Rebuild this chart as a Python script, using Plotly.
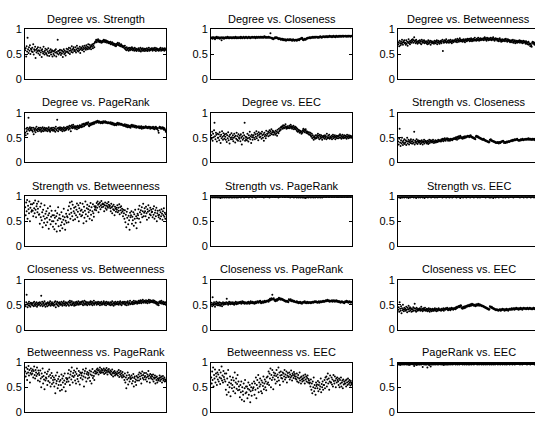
import plotly.graph_objects as go

titles = ["Degree vs. Strength", "Degree vs. Closeness", "Degree vs. Betweenness",
          "Degree vs. PageRank", "Degree vs. EEC", "Strength vs. Closeness",
          "Strength vs. Betweenness", "Strength vs. PageRank", "Strength vs. EEC",
          "Closeness vs. Betweenness", "Closeness vs. PageRank", "Closeness vs. EEC",
          "Betweenness vs. PageRank", "Betweenness vs. EEC", "PageRank vs. EEC"]

y_ticks = [0, 0.5, 1]
y_tick_labels = ["0", "0.5", "1"]

deg_str = [
    .58,.62,.45,.66,.55,.83,.6,.52,.64,.57,.68,.5,.61,.59,.55, .63,.54,.7,.49,.6,.57,.65,.42,.59,.53,.61,.56,.64,.51,.58,
    .56,.48,.63,.53,.58,.44,.6,.55,.51,.65,.54,.49,.57,.61,.52, .5,.59,.47,.55,.62,.52,.46,.57,.53,.6,.49,.54,.58,.45,.56,
    .5,.55,.47,.58,.53,.6,.45,.54,.51,.79,.56,.49,.57,.52,.59, .53,.48,.58,.51,.56,.44,.54,.6,.5,.57,.52,.47,.55,.61,.54,
    .55,.6,.52,.63,.57,.5,.62,.58,.54,.66,.59,.53,.61,.64,.56, .59,.56,.64,.53,.6,.67,.57,.62,.55,.61,.58,.65,.52,.6,.63,
    .62,.58,.66,.6,.63,.55,.67,.61,.64,.59,.68,.62,.65,.6,.7, .64,.61,.69,.63,.66,.6,.68,.65,.7,.62,.67,.71,.64,.73,.75,
    .76,.79,.74,.78,.77,.8,.75,.78,.76,.74,.77,.75,.73,.76,.74, .77,.75,.79,.78,.76,.74,.78,.75,.77,.73,.76,.74,.75,.72,.74,
    .72,.75,.7,.73,.71,.74,.69,.72,.7,.68,.71,.67,.7,.66,.68, .71,.69,.73,.7,.68,.72,.67,.69,.66,.7,.68,.65,.67,.64,.66,
    .65,.62,.67,.6,.63,.58,.64,.61,.59,.62,.57,.63,.6,.58,.61, .63,.6,.64,.58,.62,.59,.61,.57,.63,.6,.58,.61,.56,.6,.59,
    .59,.62,.56,.6,.58,.63,.55,.61,.59,.57,.62,.58,.6,.56,.61, .6,.57,.61,.58,.62,.56,.6,.59,.63,.57,.6,.58,.61,.59,.62,
    .6,.57,.62,.59,.61,.58,.63,.6,.56,.62,.59,.61,.58,.6,.57, .58,.61,.6,.63,.57,.6,.59,.62,.58,.61,.6,.57,.62,.59,.6]

deg_clo = [
    .83,.82,.84,.81,.83,.84,.82,.83,.8,.84,.82,.83,.85,.82,.83, .82,.84,.83,.81,.83,.82,.84,.78,.83,.82,.84,.83,.81,.83,.82,
    .84,.83,.82,.84,.83,.85,.82,.83,.84,.82,.83,.84,.83,.82,.84, .83,.82,.84,.83,.84,.82,.83,.85,.83,.82,.84,.83,.82,.84,.83,
    .83,.84,.82,.85,.83,.84,.82,.83,.84,.85,.83,.82,.84,.83,.85, .84,.83,.82,.84,.83,.85,.84,.83,.82,.84,.83,.84,.85,.83,.84,
    .84,.83,.85,.84,.82,.84,.85,.83,.84,.83,.85,.84,.83,.84,.85, .83,.85,.84,.83,.84,.85,.83,.84,.86,.84,.83,.85,.84,.83,.84,
    .84,.83,.85,.84,.83,.84,.92,.83,.82,.83,.81,.82,.8,.81,.82, .83,.84,.82,.83,.84,.82,.83,.81,.82,.8,.81,.82,.8,.79,.81,
    .8,.79,.81,.78,.8,.79,.78,.8,.79,.77,.79,.78,.8,.79,.78, .79,.8,.78,.79,.8,.78,.79,.77,.78,.8,.78,.79,.77,.78,.79,
    .78,.79,.77,.79,.78,.8,.79,.78,.8,.81,.8,.82,.81,.83,.82, .79,.78,.8,.79,.81,.8,.79,.81,.82,.81,.83,.82,.83,.82,.84,
    .83,.82,.84,.83,.84,.83,.85,.84,.83,.85,.84,.83,.85,.84,.85, .84,.83,.85,.84,.83,.85,.84,.86,.84,.85,.83,.85,.84,.86,.85,
    .85,.84,.86,.85,.84,.86,.85,.86,.84,.85,.86,.85,.87,.85,.86, .85,.86,.84,.86,.85,.87,.85,.86,.85,.84,.86,.87,.85,.86,.85,
    .86,.85,.87,.86,.85,.86,.87,.85,.86,.87,.86,.85,.87,.86,.86, .86,.87,.85,.86,.87,.86,.85,.87,.86,.86,.87,.85,.86,.87,.86]

deg_btw = [
    .7,.74,.66,.77,.72,.68,.75,.71,.79,.73,.69,.76,.74,.78,.72, .73,.69,.78,.71,.75,.67,.74,.8,.72,.76,.7,.74,.77,.73,.79,
    .76,.8,.73,.78,.84,.75,.77,.72,.79,.74,.76,.71,.75,.73,.77, .74,.78,.72,.76,.7,.79,.75,.73,.77,.74,.78,.72,.76,.74,.75,
    .72,.76,.7,.74,.78,.71,.75,.73,.77,.69,.74,.76,.72,.75,.73, .74,.71,.77,.73,.76,.72,.75,.78,.7,.74,.77,.73,.75,.71,.76,
    .74,.77,.72,.75,.79,.56,.76,.73,.78,.74,.77,.75,.8,.73,.76, .76,.74,.78,.73,.77,.75,.79,.74,.76,.72,.78,.76,.74,.77,.78,
    .77,.75,.8,.76,.78,.74,.81,.77,.79,.75,.78,.82,.76,.79,.77, .76,.79,.75,.78,.8,.76,.78,.74,.8,.77,.79,.76,.81,.78,.8,
    .78,.81,.76,.8,.77,.82,.79,.76,.8,.78,.81,.77,.79,.83,.78, .79,.77,.81,.78,.8,.83,.79,.77,.81,.79,.82,.78,.8,.81,.79,
    .8,.82,.78,.81,.84,.79,.82,.8,.77,.83,.8,.81,.78,.82,.79, .81,.79,.83,.8,.78,.82,.8,.84,.79,.81,.77,.8,.82,.79,.81,
    .8,.77,.81,.78,.76,.8,.82,.77,.79,.75,.78,.8,.76,.79,.77, .78,.8,.76,.79,.81,.77,.78,.75,.8,.77,.79,.76,.78,.74,.77,
    .76,.78,.74,.77,.79,.73,.76,.75,.78,.72,.76,.74,.77,.73,.75, .77,.74,.76,.78,.73,.75,.77,.74,.76,.72,.75,.77,.73,.74,.76,
    .74,.71,.76,.72,.74,.7,.73,.75,.69,.72,.7,.66,.71,.68,.65, .73,.75,.71,.74,.72,.69,.73,.71,.74,.7,.72,.68,.7,.67,.69]

deg_pr = [
    .6,.55,.68,.63,.7,.58,.66,.9,.69,.64,.71,.66,.68,.65,.7, .65,.62,.7,.57,.67,.64,.69,.61,.66,.72,.65,.68,.63,.67,.7,
    .67,.64,.7,.66,.62,.69,.65,.71,.63,.68,.66,.7,.64,.67,.69, .65,.69,.63,.68,.66,.71,.64,.67,.62,.69,.65,.68,.7,.66,.64,
    .66,.7,.64,.68,.62,.72,.67,.65,.86,.69,.63,.7,.66,.68,.71, .68,.65,.7,.67,.63,.69,.66,.71,.64,.68,.7,.65,.67,.69,.72,
    .69,.72,.66,.7,.74,.68,.73,.63,.71,.75,.69,.72,.76,.7,.73, .71,.68,.73,.7,.72,.67,.74,.71,.69,.73,.7,.75,.72,.74,.71,
    .74,.77,.72,.76,.78,.73,.77,.75,.79,.76,.78,.8,.77,.79,.81, .75,.73,.78,.75,.77,.79,.76,.78,.8,.77,.79,.81,.78,.8,.82,
    .82,.8,.83,.81,.84,.82,.8,.83,.81,.82,.79,.81,.8,.82,.79, .81,.83,.8,.82,.81,.83,.8,.82,.8,.81,.79,.8,.81,.79,.8,
    .8,.78,.81,.79,.77,.8,.78,.76,.79,.77,.75,.78,.76,.77,.75, .79,.77,.8,.78,.76,.79,.77,.78,.76,.78,.76,.77,.75,.76,.74,
    .76,.74,.77,.73,.75,.72,.76,.74,.71,.75,.73,.71,.74,.72,.7, .75,.73,.76,.72,.74,.73,.75,.71,.73,.72,.74,.7,.73,.71,.72,
    .72,.7,.73,.71,.69,.72,.7,.73,.68,.71,.7,.72,.69,.71,.7, .71,.73,.7,.72,.7,.71,.69,.72,.71,.7,.72,.68,.71,.7,.69,
    .71,.69,.72,.68,.7,.67,.71,.69,.72,.68,.7,.67,.69,.64,.6, .7,.72,.69,.71,.68,.7,.69,.71,.68,.7,.66,.69,.67,.65,.62]

deg_eec = [
    .55,.48,.62,.44,.58,.51,.65,.8,.53,.47,.6,.56,.42,.58,.5, .5,.57,.45,.61,.53,.39,.56,.49,.63,.52,.46,.59,.54,.48,.57,
    .52,.46,.58,.41,.55,.49,.61,.45,.53,.38,.56,.5,.47,.59,.51, .47,.55,.43,.5,.58,.52,.4,.54,.48,.6,.46,.53,.44,.57,.5,
    .48,.54,.43,.57,.5,.36,.53,.46,.6,.49,.55,.8,.44,.52,.47, .51,.45,.58,.49,.42,.55,.5,.62,.47,.53,.39,.56,.51,.46,.54,
    .55,.5,.6,.47,.57,.52,.63,.49,.58,.54,.45,.61,.56,.51,.59, .52,.58,.48,.62,.55,.5,.57,.44,.6,.53,.56,.49,.64,.54,.58,
    .58,.62,.53,.6,.65,.55,.63,.59,.67,.57,.61,.64,.56,.62,.6, .6,.56,.64,.58,.62,.54,.66,.61,.59,.68,.63,.65,.7,.66,.72,
    .7,.73,.68,.75,.71,.69,.74,.7,.77,.72,.68,.71,.73,.69,.7, .71,.74,.69,.72,.76,.7,.73,.68,.72,.7,.74,.67,.71,.69,.72,
    .67,.7,.64,.68,.62,.66,.63,.65,.6,.64,.61,.63,.58,.62,.6, .65,.68,.63,.66,.61,.64,.67,.6,.63,.59,.62,.6,.57,.61,.56,
    .57,.6,.54,.52,.58,.49,.55,.51,.46,.53,.5,.48,.55,.51,.49, .55,.52,.58,.5,.54,.47,.56,.52,.49,.55,.51,.46,.53,.5,.54,
    .52,.48,.55,.5,.53,.47,.58,.51,.49,.54,.5,.56,.48,.52,.5, .5,.54,.47,.52,.56,.49,.53,.51,.55,.47,.52,.5,.54,.49,.53,
    .53,.49,.55,.51,.57,.5,.54,.48,.52,.56,.5,.53,.49,.55,.51, .5,.54,.52,.48,.56,.51,.53,.49,.55,.52,.5,.54,.51,.53,.5]

str_clo = [
    .42,.36,.48,.68,.4,.33,.45,.38,.5,.41,.35,.44,.39,.47,.37, .4,.45,.35,.43,.5,.38,.42,.46,.36,.41,.44,.39,.47,.42,.38,
    .43,.38,.46,.4,.62,.36,.44,.41,.39,.47,.42,.37,.45,.4,.43, .4,.44,.37,.42,.39,.45,.41,.36,.43,.4,.46,.38,.42,.44,.41,
    .41,.38,.44,.4,.37,.43,.46,.39,.42,.45,.41,.44,.4,.43,.46, .42,.39,.43,.41,.45,.4,.42,.44,.41,.43,.46,.42,.44,.45,.43,
    .45,.42,.47,.44,.46,.48,.43,.47,.45,.49,.46,.44,.48,.47,.49, .46,.44,.48,.45,.47,.44,.46,.48,.46,.47,.45,.48,.47,.49,.48,
    .48,.5,.47,.51,.49,.46,.52,.5,.48,.53,.51,.49,.54,.52,.5, .49,.51,.48,.5,.52,.49,.51,.53,.5,.52,.51,.53,.52,.54,.53,
    .53,.51,.54,.52,.55,.53,.51,.52,.5,.51,.49,.5,.48,.49,.47, .52,.54,.53,.51,.53,.52,.5,.51,.49,.5,.48,.49,.47,.48,.46,
    .47,.46,.48,.45,.46,.44,.45,.43,.44,.42,.43,.41,.42,.4,.41, .46,.45,.47,.44,.45,.43,.44,.42,.43,.41,.42,.4,.41,.39,.4,
    .4,.39,.41,.4,.38,.4,.41,.39,.4,.42,.41,.43,.42,.44,.43, .39,.41,.4,.39,.41,.4,.42,.4,.41,.43,.42,.41,.43,.42,.44,
    .44,.45,.43,.45,.46,.44,.46,.45,.47,.45,.46,.47,.46,.48,.46, .45,.44,.46,.45,.44,.46,.47,.45,.46,.48,.46,.45,.47,.46,.47,
    .47,.46,.48,.47,.46,.48,.47,.49,.46,.48,.47,.46,.48,.47,.46, .46,.48,.47,.46,.48,.47,.45,.47,.48,.46,.47,.48,.46,.47,.48]

str_btw = [
    .78,.62,.88,.7,.93,.55,.81,.74,.66,.9,.5,.77,.84,.69,.72, .84,.71,.6,.87,.76,.66,.92,.73,.58,.8,.85,.68,.75,.9,.63,
    .64,.45,.79,.58,.86,.52,.68,.38,.73,.6,.47,.82,.55,.65,.42, .7,.57,.48,.76,.62,.35,.66,.53,.8,.44,.59,.71,.5,.62,.39,
    .5,.62,.34,.57,.71,.45,.6,.29,.66,.52,.78,.4,.56,.63,.31, .55,.42,.68,.48,.36,.6,.53,.75,.44,.58,.33,.51,.65,.47,.6,
    .58,.72,.48,.8,.64,.88,.55,.75,.67,.9,.6,.83,.52,.7,.77, .66,.54,.79,.62,.73,.86,.58,.69,.82,.5,.76,.64,.87,.71,.6,
    .73,.62,.85,.68,.46,.79,.57,.71,.9,.64,.5,.76,.83,.6,.74, .68,.8,.55,.72,.87,.63,.78,.52,.7,.84,.66,.59,.8,.73,.77,
    .8,.72,.87,.77,.9,.83,.68,.85,.79,.88,.74,.82,.91,.78,.84, .86,.79,.84,.7,.82,.88,.76,.81,.73,.86,.8,.77,.89,.83,.79,
    .81,.76,.7,.85,.78,.66,.8,.74,.83,.72,.62,.79,.75,.69,.77, .73,.82,.68,.77,.71,.84,.64,.78,.72,.8,.67,.75,.7,.6,.73,
    .66,.55,.72,.48,.63,.38,.69,.57,.75,.44,.61,.52,.33,.67,.58, .62,.7,.45,.59,.52,.68,.41,.64,.55,.73,.47,.6,.36,.56,.65,
    .62,.74,.55,.81,.68,.48,.72,.64,.78,.58,.7,.85,.6,.67,.76, .7,.6,.79,.66,.53,.74,.69,.82,.57,.71,.64,.77,.62,.73,.68,
    .69,.58,.75,.63,.8,.55,.67,.72,.6,.77,.5,.66,.71,.62,.58, .63,.72,.55,.68,.6,.74,.65,.53,.7,.62,.76,.59,.67,.55,.64]

str_pr = [
    1,.99,.98,1,.99,1,.98,.99,1,.99,.98,1,.99,1,.98, .99,1,.98,1,.99,.97,1,.99,1,.98,.99,1,.99,.98,1,
    .99,1,.98,.99,1,.99,.98,1,.99,.98,1,.99,1,.98,.99, 1,.98,.99,1,.99,.98,1,1,.99,.98,1,.99,.98,1,.99,
    1,.99,1,.98,1,.99,1,1,.99,1,.98,1,1,.99,1, .99,1,1,.99,1,.98,1,.99,1,1,.99,1,.98,1,1,
    1,1,.99,1,1,.98,1,1,1,.99,1,1,.99,1,1, 1,.99,1,1,.99,1,1,.98,1,1,.99,1,1,1,.99,
    1,.99,1,1,.98,1,1,.99,1,1,1,.99,1,1,.99, 1,1,.99,1,1,.99,1,1,.98,1,1,.99,1,1,1,
    1,1,.99,1,1,1,.99,1,1,.99,1,1,1,.99,1, .99,1,1,.98,1,.99,1,1,.99,1,1,.98,1,.99,1,
    .99,1,.98,.99,1,.99,.98,1,.99,1,.98,.99,1,.99,.98, 1,.99,.98,1,.99,.97,1,.99,.98,1,.99,1,.98,.99,1,
    1,.99,.98,1,.99,1,.99,.98,1,.99,1,.98,.99,1,.99, .99,1,.98,.99,1,.99,1,.98,.99,1,.99,.98,1,.99,1,
    1,1,.99,1,1,.99,1,1,1,.99,1,1,.99,1,1, 1,.99,1,1,.99,1,1,.99,1,1,1,.99,1,1,.99,
    1,.99,1,1,.99,1,1,.99,1,1,.99,1,1,.99,1, 1,1,.99,1,1,.99,1,1,.99,1,1,1,.99,1,1]

str_eec = [
    .99,1,.98,1,.99,.97,1,.99,1,.98,1,.99,1,.98,1, 1,.99,1,.98,1,.99,1,.97,1,.99,1,.98,1,.99,1,
    1,.99,1,.98,1,1,.99,1,.97,1,.99,1,1,.98,1, .99,1,.98,1,.99,1,1,.98,1,.99,1,.97,1,.99,1,
    .99,1,1,.98,1,.99,1,1,.99,1,.98,1,1,.99,1, 1,.99,1,.98,1,1,.99,1,.98,1,.99,1,1,.99,1,
    1,.99,1,1,.98,1,.99,1,1,.99,1,1,.98,1,.99, 1,1,.99,1,.98,1,1,.99,1,1,.98,1,.99,1,1,
    1,1,.99,1,.98,1,1,.99,1,1,.99,1,.97,1,1, .99,1,1,.98,1,.99,1,1,.99,1,.98,1,1,.99,1,
    .99,1,1,.98,1,.99,1,1,.99,1,1,.98,1,.99,1, 1,.99,1,1,.98,1,.99,1,1,.98,1,.99,1,1,.99,
    1,.99,1,1,.99,1,.98,1,1,.99,1,1,.99,1,.98, 1,1,.98,1,.99,1,1,.97,1,.99,1,1,.98,1,.99,
    1,1,.99,1,.98,1,1,.99,1,1,.99,1,1,.98,1, .99,1,1,.98,1,.99,1,1,.99,1,.98,1,1,.99,1,
    .99,1,1,.99,1,.98,1,1,.99,1,1,.99,1,1,.99, 1,.99,1,1,.98,1,1,.99,1,1,.99,1,.98,1,1,
    1,.99,1,1,.98,1,.99,1,1,.99,1,1,.98,1,.99, 1,1,.99,1,.98,1,1,.99,1,.99,1,1,.98,1,1]

clo_btw = [
    .5,.47,.55,.7,.51,.45,.53,.49,.56,.48,.52,.46,.54,.5,.53, .52,.49,.54,.47,.56,.51,.48,.53,.5,.55,.46,.52,.49,.54,.51,
    .51,.55,.48,.53,.68,.5,.56,.47,.52,.54,.49,.57,.51,.46,.53, .5,.53,.47,.55,.52,.49,.54,.51,.57,.48,.53,.5,.55,.52,.49,
    .52,.48,.55,.5,.57,.45,.53,.51,.56,.49,.54,.47,.52,.55,.5, .53,.5,.56,.51,.48,.54,.52,.57,.49,.53,.51,.55,.48,.54,.52,
    .53,.5,.56,.48,.54,.58,.51,.55,.49,.57,.52,.5,.55,.53,.48, .51,.55,.49,.53,.56,.5,.54,.52,.57,.5,.53,.55,.51,.54,.56,
    .54,.51,.57,.49,.55,.52,.58,.5,.53,.56,.51,.54,.49,.55,.52, .52,.55,.5,.54,.57,.51,.53,.56,.49,.54,.52,.58,.5,.53,.55,
    .53,.55,.5,.54,.52,.56,.51,.53,.55,.49,.54,.52,.56,.5,.53, .51,.54,.57,.52,.5,.55,.53,.49,.56,.52,.54,.51,.55,.53,.5,
    .52,.55,.49,.54,.51,.57,.5,.53,.48,.55,.52,.5,.56,.53,.51, .54,.51,.56,.52,.5,.55,.53,.57,.51,.54,.49,.55,.52,.56,.53,
    .54,.51,.56,.5,.53,.55,.49,.54,.57,.52,.5,.55,.53,.58,.51, .52,.55,.53,.56,.51,.54,.58,.52,.55,.53,.57,.54,.56,.52,.55,
    .55,.58,.53,.57,.54,.59,.56,.53,.58,.55,.6,.56,.54,.58,.57, .56,.54,.59,.55,.57,.53,.58,.56,.6,.54,.57,.59,.55,.58,.56,
    .57,.55,.59,.56,.54,.58,.55,.53,.56,.52,.55,.5,.54,.52,.49, .56,.54,.57,.53,.55,.58,.52,.55,.53,.56,.51,.54,.52,.55,.5]

clo_pr = [
    .5,.54,.47,.65,.52,.49,.55,.51,.46,.53,.5,.56,.52,.49,.54, .52,.49,.55,.51,.48,.54,.5,.53,.47,.52,.55,.5,.53,.51,.54,
    .53,.51,.55,.62,.52,.54,.5,.53,.56,.52,.54,.51,.55,.53,.52, .52,.55,.51,.53,.5,.54,.52,.56,.53,.51,.55,.53,.52,.54,.55,
    .55,.53,.56,.54,.52,.55,.57,.54,.53,.56,.54,.52,.55,.53,.54, .54,.52,.55,.53,.56,.54,.52,.55,.53,.57,.54,.55,.53,.56,.54,
    .53,.55,.52,.54,.56,.53,.55,.54,.57,.55,.56,.54,.57,.56,.58, .55,.53,.56,.54,.55,.57,.54,.56,.55,.58,.56,.55,.57,.58,.57,
    .57,.59,.56,.6,.58,.62,.59,.61,.63,.6,.7,.62,.61,.63,.6, .58,.6,.57,.59,.61,.58,.6,.62,.6,.64,.61,.63,.62,.6,.62,
    .62,.6,.61,.59,.6,.58,.59,.57,.58,.56,.57,.58,.56,.57,.55, .61,.59,.6,.58,.61,.59,.57,.58,.59,.57,.56,.58,.57,.56,.55,
    .56,.55,.57,.54,.56,.55,.53,.55,.54,.56,.53,.55,.54,.52,.54, .55,.56,.54,.55,.57,.54,.55,.53,.54,.56,.55,.53,.55,.54,.55,
    .54,.55,.53,.55,.54,.56,.55,.54,.56,.55,.57,.55,.56,.57,.55, .55,.54,.56,.55,.57,.54,.56,.55,.57,.56,.55,.57,.56,.58,.56,
    .57,.56,.58,.57,.59,.57,.58,.6,.58,.57,.59,.58,.56,.58,.57, .58,.57,.59,.56,.58,.57,.59,.58,.56,.58,.57,.59,.57,.56,.58,
    .56,.57,.55,.57,.56,.54,.56,.55,.57,.55,.56,.54,.55,.53,.55, .57,.55,.56,.58,.55,.57,.56,.54,.56,.57,.55,.56,.54,.56,.55]

clo_eec = [
    .4,.45,.36,.55,.42,.38,.47,.33,.43,.39,.5,.41,.37,.44,.4, .42,.38,.46,.4,.35,.44,.41,.48,.37,.42,.45,.39,.43,.36,.41,
    .41,.37,.45,.39,.43,.52,.38,.42,.36,.44,.4,.38,.42,.39,.41, .4,.43,.38,.41,.46,.39,.42,.37,.4,.43,.39,.41,.44,.38,.4,
    .39,.42,.37,.41,.38,.43,.4,.36,.42,.39,.41,.37,.4,.42,.38, .41,.38,.4,.43,.39,.41,.37,.42,.4,.38,.41,.43,.39,.41,.4,
    .4,.38,.42,.39,.41,.4,.43,.38,.41,.42,.4,.43,.41,.42,.44, .41,.39,.42,.4,.43,.41,.39,.42,.44,.41,.43,.42,.4,.43,.42,
    .42,.44,.41,.45,.43,.46,.44,.45,.47,.46,.48,.45,.47,.49,.48, .43,.45,.42,.44,.46,.43,.45,.47,.44,.46,.48,.46,.47,.49,.47,
    .48,.5,.47,.49,.51,.48,.5,.52,.49,.51,.5,.48,.5,.49,.47, .49,.51,.48,.5,.49,.52,.5,.48,.51,.49,.5,.48,.49,.47,.48,
    .48,.46,.47,.45,.46,.44,.45,.43,.44,.42,.43,.41,.42,.4,.41, .47,.45,.46,.44,.46,.43,.44,.42,.43,.41,.42,.4,.41,.39,.4,
    .41,.39,.4,.38,.4,.39,.41,.4,.38,.41,.39,.4,.42,.4,.41, .4,.38,.41,.39,.4,.42,.39,.41,.4,.38,.41,.4,.42,.41,.4,
    .41,.43,.4,.42,.41,.43,.42,.4,.43,.41,.42,.44,.42,.41,.43, .42,.4,.43,.41,.42,.44,.41,.43,.42,.4,.43,.42,.44,.42,.43,
    .42,.43,.41,.43,.42,.44,.42,.41,.43,.42,.44,.42,.43,.41,.42, .43,.41,.42,.44,.42,.43,.41,.43,.42,.44,.43,.42,.41,.43,.42]

btw_pr = [
    .82,.72,.9,.78,.65,.87,.8,.93,.74,.85,.6,.79,.88,.76,.83, .78,.86,.7,.83,.92,.75,.68,.85,.8,.73,.9,.77,.64,.84,.79,
    .75,.62,.84,.68,.5,.78,.71,.88,.58,.73,.66,.46,.8,.64,.7, .68,.77,.55,.82,.63,.72,.86,.6,.75,.52,.69,.79,.57,.73,.65,
    .6,.7,.52,.66,.38,.74,.58,.63,.8,.48,.67,.55,.72,.62,.43, .65,.55,.76,.45,.68,.6,.73,.5,.64,.78,.57,.42,.69,.61,.66,
    .68,.78,.62,.85,.7,.55,.76,.82,.66,.9,.73,.6,.79,.71,.84, .74,.64,.81,.58,.77,.88,.67,.73,.62,.83,.75,.56,.8,.69,.78,
    .74,.8,.66,.86,.72,.52,.78,.83,.7,.88,.62,.77,.81,.68,.75, .79,.7,.84,.63,.76,.82,.58,.74,.87,.69,.8,.73,.65,.83,.78,
    .82,.78,.86,.8,.88,.84,.76,.85,.81,.9,.79,.83,.87,.8,.84, .85,.8,.88,.77,.83,.86,.79,.84,.89,.81,.76,.85,.82,.87,.8,
    .8,.84,.77,.82,.75,.86,.79,.72,.81,.78,.83,.74,.8,.76,.78, .77,.82,.74,.79,.85,.71,.8,.76,.83,.73,.78,.7,.81,.75,.72,
    .72,.65,.78,.6,.7,.48,.74,.66,.8,.56,.69,.75,.62,.71,.67, .68,.74,.58,.7,.63,.77,.52,.69,.72,.61,.66,.55,.73,.64,.7,
    .7,.76,.64,.8,.72,.67,.78,.58,.74,.82,.69,.75,.66,.79,.71, .73,.66,.79,.7,.62,.76,.72,.83,.68,.74,.6,.77,.71,.68,.75,
    .72,.66,.76,.62,.7,.68,.74,.58,.7,.65,.72,.6,.68,.64,.66, .69,.74,.63,.7,.66,.72,.6,.68,.73,.64,.67,.7,.62,.66,.63]

btw_eec = [
    .7,.58,.82,.65,.9,.52,.75,.68,.86,.6,.78,.72,.55,.8,.66, .76,.62,.85,.7,.57,.8,.68,.92,.64,.74,.6,.83,.71,.66,.78,
    .62,.45,.78,.35,.68,.55,.85,.4,.6,.5,.72,.32,.58,.65,.48, .55,.7,.42,.64,.5,.8,.38,.6,.68,.47,.57,.75,.44,.62,.52,
    .45,.3,.55,.4,.62,.25,.5,.42,.35,.58,.22,.48,.65,.38,.52, .4,.52,.28,.47,.6,.35,.45,.55,.2,.42,.5,.33,.58,.44,.48,
    .5,.62,.35,.58,.45,.7,.28,.55,.65,.48,.75,.4,.6,.52,.68, .56,.42,.64,.38,.6,.53,.72,.46,.58,.66,.5,.62,.44,.7,.57,
    .72,.6,.82,.55,.78,.68,.88,.5,.75,.65,.85,.7,.46,.8,.74, .66,.78,.58,.73,.85,.62,.76,.7,.9,.64,.8,.55,.74,.82,.69,
    .75,.68,.8,.62,.78,.72,.85,.66,.76,.7,.82,.6,.74,.79,.71, .72,.8,.66,.76,.7,.84,.73,.64,.78,.75,.69,.81,.73,.77,.68,
    .72,.66,.78,.62,.7,.75,.6,.68,.8,.64,.7,.58,.72,.66,.62, .68,.74,.64,.7,.58,.76,.66,.72,.62,.69,.74,.6,.67,.64,.58,
    .6,.52,.66,.45,.58,.38,.62,.5,.7,.42,.55,.48,.35,.6,.53, .56,.48,.63,.42,.55,.6,.46,.52,.68,.4,.57,.5,.62,.45,.55,
    .55,.65,.48,.7,.6,.72,.52,.66,.78,.58,.68,.45,.62,.74,.6, .6,.7,.56,.66,.52,.75,.63,.58,.72,.64,.5,.68,.6,.7,.65,
    .62,.55,.68,.5,.65,.58,.7,.52,.6,.64,.48,.66,.56,.62,.58, .58,.64,.52,.66,.6,.55,.68,.62,.57,.65,.6,.54,.63,.59,.56]

pr_eec = [
    .97,.96,.98,.97,.95,.98,.97,.96,.98,.97,.96,.97,.98,.96,.97, .98,.97,.96,.98,.97,.96,.98,.97,.95,.97,.98,.96,.97,.98,.97,
    .97,.98,.96,.97,.93,.98,.96,.97,.98,.95,.97,.96,.98,.97,.96, .97,.96,.98,.97,.96,.98,.97,.91,.97,.98,.96,.97,.98,.96,.97,
    .96,.97,.9,.98,.96,.97,.95,.98,.97,.92,.96,.98,.97,.96,.97, .98,.96,.97,.98,.96,.97,.98,.97,.96,.97,.98,.96,.97,.98,.97,
    .97,.96,.98,.97,.96,.98,.97,.95,.98,.97,.96,.97,.98,.96,.97, .96,.98,.97,.96,.98,.97,.98,.96,.97,.98,.97,.96,.98,.97,.98,
    .98,.97,.96,.98,.97,.98,.96,.97,.98,.97,.96,.98,.97,.98,.97, .97,.98,.96,.97,.98,.97,.96,.98,.97,.98,.96,.97,.98,.97,.96,
    .97,.98,.96,.97,.98,.97,.96,.98,.97,.98,.97,.96,.98,.97,.98, .98,.97,.98,.96,.97,.98,.97,.96,.98,.97,.98,.97,.96,.98,.97,
    .97,.96,.98,.97,.98,.96,.97,.98,.97,.96,.98,.97,.98,.97,.96, .97,.98,.97,.96,.98,.97,.98,.96,.97,.98,.97,.96,.98,.97,.98,
    .98,.97,.96,.98,.97,.98,.97,.96,.98,.97,.98,.97,.96,.98,.97, .97,.98,.96,.97,.98,.97,.96,.98,.97,.98,.97,.98,.96,.97,.98,
    .97,.98,.97,.96,.98,.97,.98,.97,.96,.98,.97,.98,.97,.98,.97, .98,.97,.98,.97,.96,.98,.97,.98,.97,.96,.98,.97,.98,.97,.98,
    .98,.97,.98,.97,.96,.98,.97,.98,.97,.98,.97,.96,.98,.97,.98, .97,.98,.97,.98,.97,.96,.98,.97,.98,.97,.98,.97,.96,.98,.97]

panels = [deg_str, deg_clo, deg_btw, deg_pr, deg_eec, str_clo,
          str_btw, str_pr, str_eec, clo_btw, clo_pr, clo_eec,
          btw_pr, btw_eec, pr_eec]

W, H = 535, 423
col_left = [25, 211, 398]
row_top = [24, 110, 196, 282, 367]
pw, ph = 141, 51
FONT = "Liberation Sans, Arial, sans-serif"

fig = go.Figure()
annotations = []
for k, vals in enumerate(panels):
    r, c = divmod(k, 3)
    n = k + 1
    sfx = "" if n == 1 else str(n)
    xs = list(range(1, len(vals) + 1))
    x0 = col_left[c]
    x1 = x0 + pw
    vis = min(x1, W)
    frac = (vis - x0) / pw
    lo, hi = 0.5, len(vals) + 0.5
    rng = [lo, lo + (hi - lo) * frac]
    top = row_top[r]
    fig.add_trace(go.Scatter(
        x=xs, y=vals, mode="markers",
        marker=dict(size=2, color="black", line=dict(width=0)),
        xaxis="x" + sfx, yaxis="y" + sfx, hoverinfo="skip", showlegend=False))
    fig.update_layout(**{
        "xaxis" + sfx: dict(domain=[x0 / W, vis / W], range=rng, anchor="y" + sfx,
                            showline=True, linecolor="black", linewidth=1, mirror=True,
                            ticks="", showticklabels=False, showgrid=False, zeroline=False,
                            fixedrange=True),
        "yaxis" + sfx: dict(domain=[1 - (top + ph) / H, 1 - top / H], range=[0, 1],
                            anchor="x" + sfx, tickvals=y_ticks, ticktext=y_tick_labels,
                            ticks="inside", ticklen=3, tickcolor="black", tickwidth=1,
                            showline=True, linecolor="black", linewidth=1,
                            mirror=("ticks" if c < 2 else False),
                            showgrid=False, zeroline=False, fixedrange=True,
                            tickfont=dict(family=FONT, size=11, color="black")),
    })
    annotations.append(dict(text=titles[k], xref="paper", yref="paper",
                            x=(x0 + pw / 2) / W, y=1 - (top - 11) / H,
                            xanchor="center", yanchor="middle", showarrow=False,
                            font=dict(family=FONT, size=11, color="black")))

fig.update_layout(width=W, height=H, margin=dict(l=0, r=0, t=0, b=0),
                  paper_bgcolor="white", plot_bgcolor="white",
                  annotations=annotations, showlegend=False)
fig.write_html("out.html")
